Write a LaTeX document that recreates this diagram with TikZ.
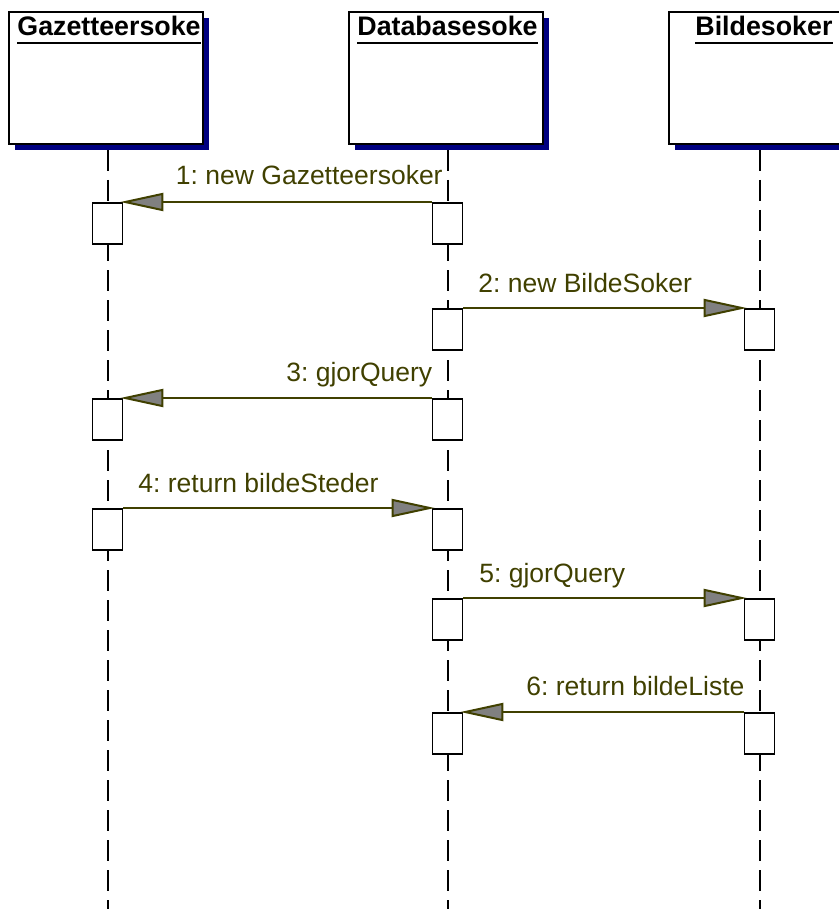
\documentclass[tikz,border=0pt]{standalone}
\usepackage{fontspec}
\setmainfont{Liberation Sans}
\usetikzlibrary{arrows.meta,shadows}
\definecolor{shadowblue}{RGB}{0,0,128}
\definecolor{msgline}{RGB}{64,64,0}
\definecolor{tipgray}{RGB}{128,128,128}
\frenchspacing

\begin{document}
\begin{tikzpicture}[x=0.5pt,y=-0.5pt,
  every node/.style={font=\fontsize{13.25}{15}\selectfont},
  head/.style={draw,line width=1pt,fill=white,minimum width=97pt,minimum height=66pt,
    general shadow={shadow xshift=3pt,shadow yshift=-3pt,fill=shadowblue}},
  title/.style={font=\fontsize{13.4}{15}\selectfont\bfseries,inner xsep=0pt,inner ysep=3pt,anchor=base west},
  uline/.style={line width=1pt},
  lifeline/.style={line width=1pt,dash pattern=on 10.5pt off 4.5pt},
  act/.style={draw,line width=0.8pt,fill=white,minimum width=15pt,minimum height=20.5pt,inner sep=0pt,anchor=north},
  msg/.style={draw=msgline,line width=1pt,shorten >=-1.5pt,
    -{Triangle[length=21.5pt,width=9pt,fill=tipgray]}},
  lbl/.style={text=msgline,inner sep=0pt}]
\clip (0,0) rectangle (839,909);

% lifelines
\coordinate (gend) at (107.5,909);
\coordinate (dend) at (447.5,909);
\coordinate (bend) at (759.5,909);
\draw[lifeline] (107.5,150) -- (gend);
\draw[lifeline] (447.5,150) -- (dend);
\draw[lifeline] (759.5,150) -- (bend);

% objects
\node[head] (gaz) at (106,78) {};
\node[head] (db) at (445.5,78) {};
\node[head] (bild) at (766,78) {};
\node[title] (gazt) at (17,36) {Gazetteersoke};
\node[title] (dbt) at (357,36) {Databasesoke};
\node[title] (bildt) at (695,36) {Bildesoker};
\draw[uline] (gazt.south west) -- (gazt.south east);
\draw[uline] (dbt.south west) -- (dbt.south east);
\draw[uline] (bildt.south west) -- (bildt.south east);

% activations
\node[act] (act1g) at (107.5,202) {};
\node[act] (act1d) at (447.5,202) {};
\node[act] (act2d) at (447.5,308) {};
\node[act] (act2b) at (759.5,308) {};
\node[act] (act3g) at (107.5,398) {};
\node[act] (act3d) at (447.5,398) {};
\node[act] (act4g) at (107.5,508) {};
\node[act] (act4d) at (447.5,508) {};
\node[act] (act5d) at (447.5,598) {};
\node[act] (act5b) at (759.5,598) {};
\node[act] (act6d) at (447.5,712) {};
\node[act] (act6b) at (759.5,712) {};

% messages
\draw[msg] (act1d.north west) -- (act1g.north east);
\draw[msg] (act2d.north east) -- (act2b.north west);
\draw[msg] (act3d.north west) -- (act3g.north east);
\draw[msg] (act4g.north east) -- (act4d.north west);
\draw[msg] (act5d.north east) -- (act5b.north west);
\draw[msg] (act6b.north west) -- (act6d.north east);
\node[lbl,anchor=base east] (m1) at (443,185) {1: new Gazetteersoker};
\node[lbl,anchor=base west] (m2) at (478,292) {2: new BildeSoker};
\node[lbl,anchor=base west] (m3) at (286,381) {3: gjorQuery};
\node[lbl,anchor=base west] (m4) at (138,492) {4: return bildeSteder};
\node[lbl,anchor=base west] (m5) at (479,582) {5: gjorQuery};
\node[lbl,anchor=base west] (m6) at (526,695) {6: return bildeListe};
\end{tikzpicture}
\end{document}
